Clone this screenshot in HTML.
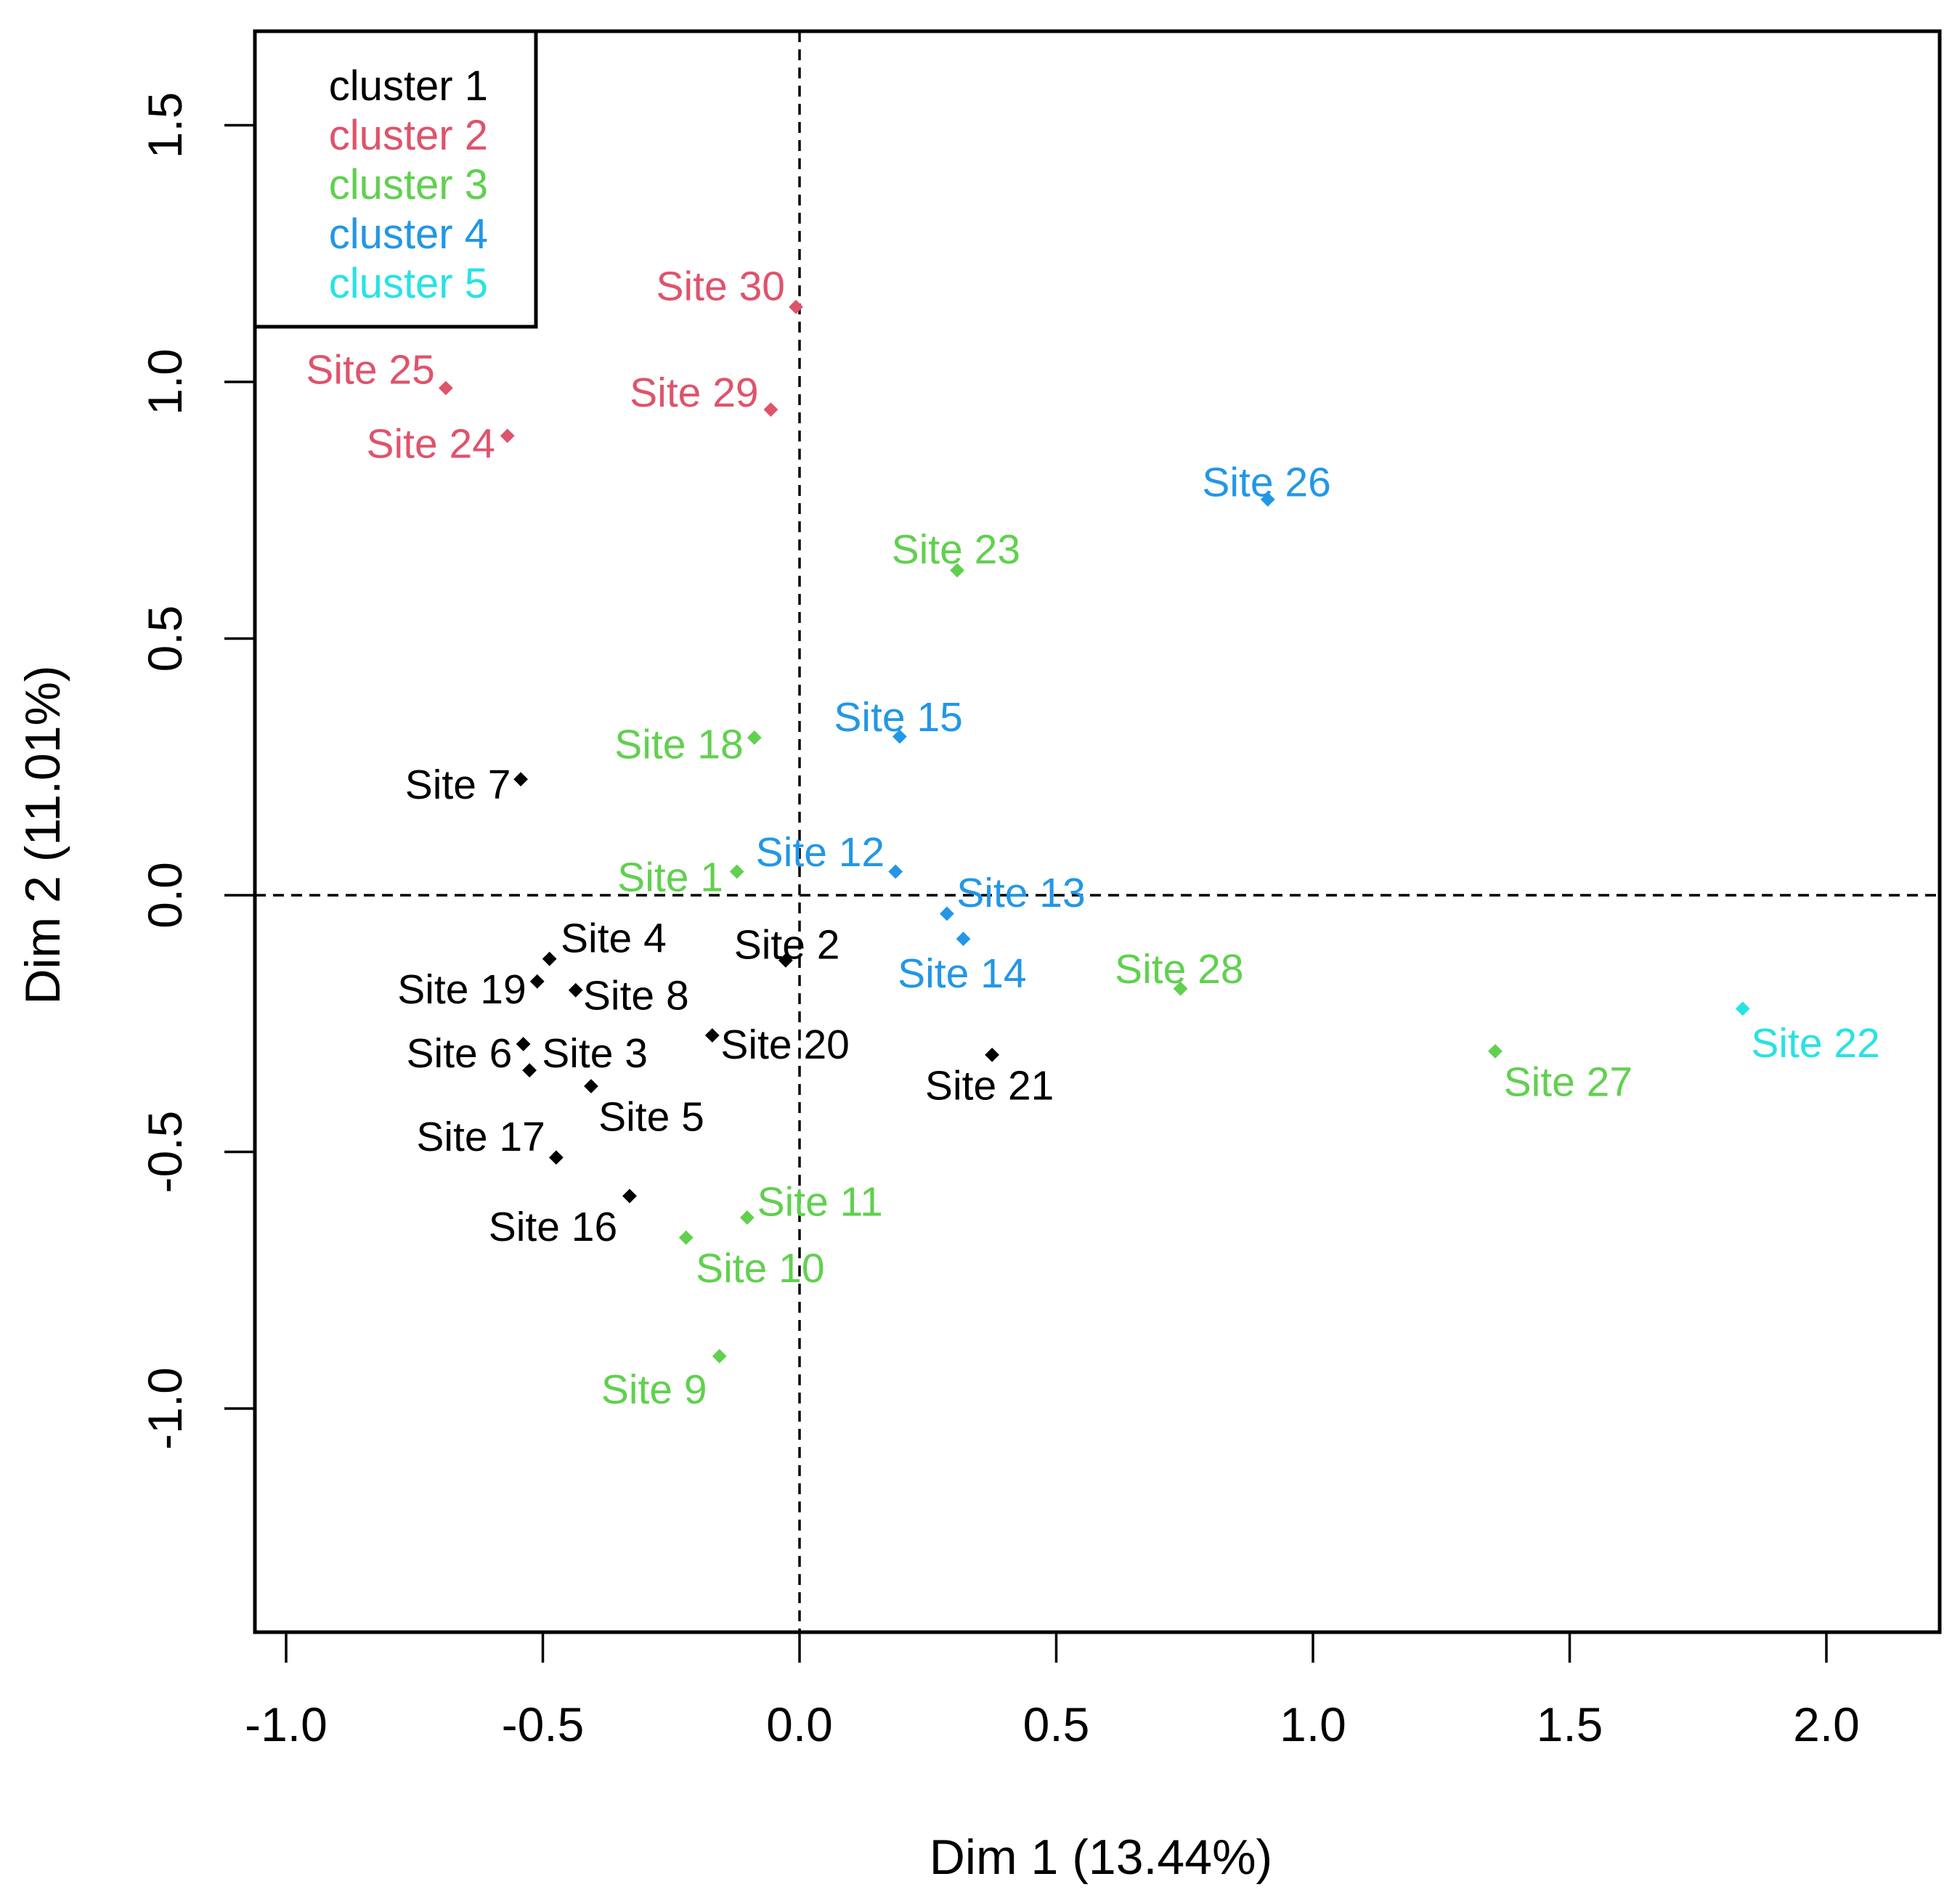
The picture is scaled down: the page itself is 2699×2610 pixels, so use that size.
<!DOCTYPE html>
<html><head><meta charset="utf-8"><style>
html,body{margin:0;padding:0;background:#fff}
svg{display:block;font-family:"Liberation Sans",Arial,sans-serif}
</style></head><body>
<svg id="chart" xmlns="http://www.w3.org/2000/svg" width="2699" height="2610" viewBox="0 0 2699 2610">
<rect x="0" y="0" width="2699" height="2610" fill="#fff"/>
<g id="marks"></g>
</svg>
<script>
const sites = ["Site 30","Site 25","Site 24","Site 29","Site 26","Site 23","Site 15","Site 18","Site 7","Site 12","Site 1","Site 13","Site 14","Site 4","Site 2","Site 28","Site 19","Site 8","Site 20","Site 6","Site 3","Site 22","Site 27","Site 21","Site 5","Site 17","Site 16","Site 11","Site 10","Site 9"];
const dim1 = [-0.007,-0.689,-0.569,-0.056,0.912,0.307,0.195,-0.088,-0.543,0.187,-0.122,0.287,0.319,-0.487,-0.027,0.742,-0.511,-0.436,-0.170,-0.538,-0.526,1.837,1.355,0.375,-0.406,-0.474,-0.331,-0.102,-0.221,-0.156];
const dim2 = [1.146,0.988,0.895,0.946,0.771,0.633,0.309,0.307,0.226,0.046,0.046,-0.036,-0.085,-0.124,-0.127,-0.182,-0.168,-0.185,-0.273,-0.290,-0.341,-0.221,-0.304,-0.311,-0.372,-0.511,-0.586,-0.628,-0.667,-0.898];
const cluster = [2,2,2,2,4,3,4,3,1,4,3,4,4,1,1,3,1,1,1,1,1,5,3,1,1,1,1,3,3,3];
const xTicks = [-1.0,-0.5,0.0,0.5,1.0,1.5,2.0];
const yTicks = [-1.0,-0.5,0.0,0.5,1.0,1.5];
const legendLabels = ["cluster 1","cluster 2","cluster 3","cluster 4","cluster 5"];
const clusterColors = ["#000000","#DF536B","#61D04F","#2297E6","#28E2E5"];
// label offsets (layout, display px)
const labelOff = [[-60,-17],[-60,-15],[-61,6],[-61,-14],[-1,-14],[-1,-17],[-1,-16],[-60,5],[-50,4],[-60,-16],[-53,4],[59,-17],[-1,27],[51,-17],[1,-13],[-1,-16],[-60,6],[48,4],[58,7],[-51,7],[52,-14],[58,27],[58,24],[-2,24],[48,24],[-60,-17],[-61,24],[58,-13],[59,24],[-52,26]];

const NS="http://www.w3.org/2000/svg";
const L=351,R=2671,T=43,B=2248;
const X0=1101,Y0=1233,S=707;
const sx=v=>X0+v*S, sy=v=>Y0-v*S;
const g=document.getElementById('marks');
function mk(tag,attrs,parent){const e=document.createElementNS(NS,tag);for(const k in attrs)e.setAttribute(k,attrs[k]);(parent||g).appendChild(e);return e;}

let e=mk('line',{x1:sx(0),x2:sx(0),y1:T,y2:B,stroke:'#000','stroke-width':3.5,'stroke-dasharray':'15,10'});


e=mk('line',{x1:L,x2:R,y1:sy(0),y2:sy(0),stroke:'#000','stroke-width':3.5,'stroke-dasharray':'15,10'});



e=mk('rect',{x:L,y:T,width:R-L,height:B-T,fill:'none',stroke:'#000','stroke-width':5});



xTicks.forEach(t=>{
  const l=mk('line',{x1:sx(t),x2:sx(t),y1:B,y2:B+42,stroke:'#000','stroke-width':3.5});
  
  
  const tx=mk('text',{x:sx(t),y:B+150,'font-size':66,'text-anchor':'middle',fill:'#000'});
  tx.textContent=t.toFixed(1);
  
  
});
yTicks.forEach(t=>{
  const l=mk('line',{x1:L-42,x2:L,y1:sy(t),y2:sy(t),stroke:'#000','stroke-width':3.5});
  
  
  const tx=mk('text',{x:0,y:0,'font-size':66,'text-anchor':'middle',fill:'#000',transform:`translate(${250},${sy(t)}) rotate(-90)`});
  tx.textContent=t.toFixed(1);
  
  
});
e=mk('text',{x:1516,y:2581,'font-size':68,'text-anchor':'middle',fill:'#000'});
e.textContent='Dim 1 (13.44%)';


e=mk('text',{x:0,y:0,'font-size':68,'text-anchor':'middle',fill:'#000',transform:'translate(82,1150) rotate(-90)'});
e.textContent='Dim 2 (11.01%)';



const K=1.73;
sites.forEach((s,i)=>{
  const c=clusterColors[cluster[i]-1];
  const px=sx(dim1[i]), py=sy(dim2[i]);
  const p=mk('rect',{x:px-7,y:py-7,width:14,height:14,fill:c,transform:`rotate(45 ${px} ${py})`});
  
  
  const t=mk('text',{x:px+labelOff[i][0]*K,y:py+labelOff[i][1]*K+20,'font-size':57,'text-anchor':'middle',fill:c});
  t.textContent=s;
  
  
});

e=mk('rect',{x:L,y:T,width:738-L,height:450-T,fill:'#fff',stroke:'#000','stroke-width':5});


legendLabels.forEach((lb,i)=>{
  const t=mk('text',{x:672,y:138+i*68,'font-size':58,'text-anchor':'end',fill:clusterColors[i]});
  t.textContent=lb;
  
  
});
</script>
</body></html>
